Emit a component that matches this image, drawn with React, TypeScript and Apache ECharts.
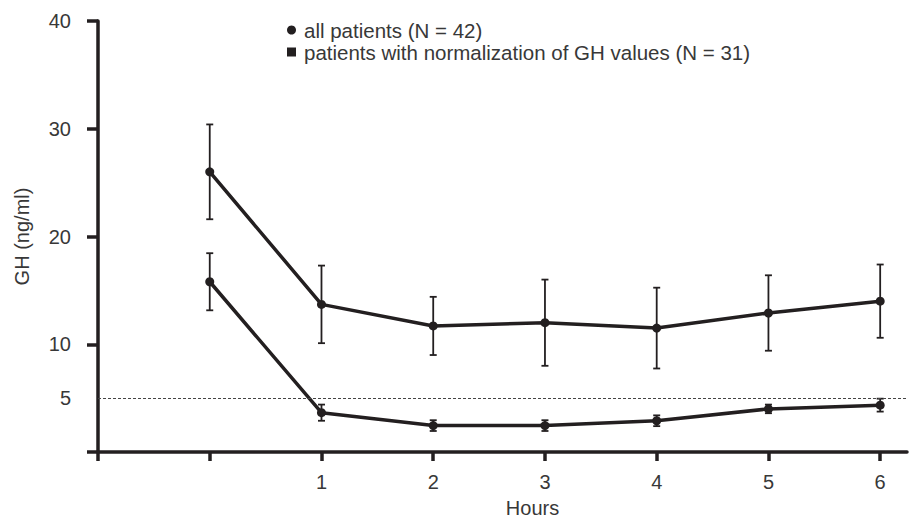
import React, { useEffect, useRef } from "react";
import * as echarts from "echarts";

const hours = [0, 1, 2, 3, 4, 5, 6];
const allMean = [26.0, 13.7, 11.7, 12.0, 11.5, 12.9, 14.0];
const allErr = [4.4, 3.6, 2.7, 4.0, 3.75, 3.5, 3.4];
const normMean = [15.8, 3.65, 2.45, 2.45, 2.9, 4.0, 4.35];
const normErr = [2.65, 0.75, 0.5, 0.5, 0.5, 0.4, 0.6];
const xTicks = [-1, 0, 1, 2, 3, 4, 5, 6];
const xLabels = [1, 2, 3, 4, 5, 6];
const yTicks = [0, 10, 20, 30, 40];
const yLabels = [5, 10, 20, 30, 40];
const threshold = 5;
const nameAll = "all patients (N = 42)";
const nameNorm = "patients with normalization of GH values (N = 31)";

const INK = "#231f20";
const TXT = "#383838";
const FONT = "Liberation Sans";

function errData(mean: number[], err: number[]) {
  return hours.map((h, i) => [h, mean[i] - err[i], mean[i] + err[i]]);
}

const renderErr = (params: any, api: any) => {
  const x = api.value(0);
  const top = api.coord([x, api.value(2)]);
  const bot = api.coord([x, api.value(1)]);
  const w = 3.5;
  const st = { stroke: INK, lineWidth: 1.8 };
  return {
    type: "group",
    children: [
      { type: "line", shape: { x1: top[0], y1: top[1], x2: bot[0], y2: bot[1] }, style: st },
      { type: "line", shape: { x1: top[0] - w, y1: top[1], x2: top[0] + w, y2: top[1] }, style: st },
      { type: "line", shape: { x1: bot[0] - w, y1: bot[1], x2: bot[0] + w, y2: bot[1] }, style: st },
    ],
  };
};

export default function App() {
  const ref = useRef<HTMLDivElement>(null);
  useEffect(() => {
    if (!ref.current) return;
    const chart = echarts.init(ref.current, null, { renderer: "svg" });
    chart.setOption({
      animation: false,
      backgroundColor: "#ffffff",
      textStyle: { fontFamily: FONT },
      grid: { left: 98, right: 5, top: 21, bottom: 66, containLabel: false },
      legend: {
        orient: "vertical",
        left: 282,
        top: 14,
        itemWidth: 9,
        itemHeight: 9,
        itemGap: 0,
        padding: 5,
        selectedMode: false,
        textStyle: { fontSize: 20.5, color: TXT, fontFamily: FONT, lineHeight: 22, padding: [0, 0, 0, 3] },
        data: [
          { name: nameAll, icon: "circle" },
          { name: nameNorm, icon: "rect" },
        ],
      },
      xAxis: {
        type: "value",
        min: -1,
        max: 6.24,
        interval: 1,
        name: "Hours",
        nameLocation: "middle",
        nameGap: 46,
        nameTextStyle: { fontSize: 20, color: TXT, fontFamily: FONT, padding: [0, 0, 0, 60] },
        splitLine: { show: false },
        axisLine: { show: true, onZero: false, lineStyle: { color: INK, width: 3.5 } },
        axisTick: { show: true, length: 9, customValues: xTicks, lineStyle: { color: INK, width: 3.5 } },
        axisLabel: { customValues: xLabels, fontSize: 20, color: TXT, margin: 20, fontFamily: FONT },
      },
      yAxis: {
        type: "value",
        min: 0,
        max: 40,
        interval: 10,
        name: "GH (ng/ml)",
        nameLocation: "middle",
        nameGap: 66,
        nameTextStyle: { fontSize: 20, color: TXT, fontFamily: FONT },
        splitLine: { show: false },
        axisLine: { show: true, onZero: false, lineStyle: { color: INK, width: 3.5 } },
        axisTick: { show: true, length: 11, customValues: yTicks, lineStyle: { color: INK, width: 3.5 } },
        axisLabel: { customValues: yLabels, fontSize: 20, color: TXT, margin: 27, fontFamily: FONT },
      },
      series: [
        {
          type: "custom",
          renderItem: renderErr,
          data: errData(allMean, allErr),
          encode: { x: 0, y: [1, 2] },
          silent: true,
          z: 3,
        },
        {
          type: "custom",
          renderItem: renderErr,
          data: errData(normMean, normErr),
          encode: { x: 0, y: [1, 2] },
          silent: true,
          z: 3,
        },
        {
          name: nameAll,
          type: "line",
          data: hours.map((h, i) => [h, allMean[i]]),
          symbol: "circle",
          symbolSize: 9,
          itemStyle: { color: INK },
          lineStyle: { color: INK, width: 3.5 },
          z: 4,
          markLine: {
            silent: true,
            symbol: ["none", "none"],
            label: { show: false },
            lineStyle: { color: "#444", width: 1, type: [3, 2] },
            data: [{ yAxis: threshold }],
          },
        },
        {
          name: nameNorm,
          type: "line",
          data: hours.map((h, i) => [h, normMean[i]]),
          symbol: "circle",
          symbolSize: 9,
          itemStyle: { color: INK },
          lineStyle: { color: INK, width: 3.5 },
          z: 4,
        },
      ],
    });
    return () => chart.dispose();
  }, []);
  return (
    <div
      ref={ref}
      style={{ position: "fixed", left: 0, top: 0, width: 912, height: 523, background: "#fff" }}
    />
  );
}
